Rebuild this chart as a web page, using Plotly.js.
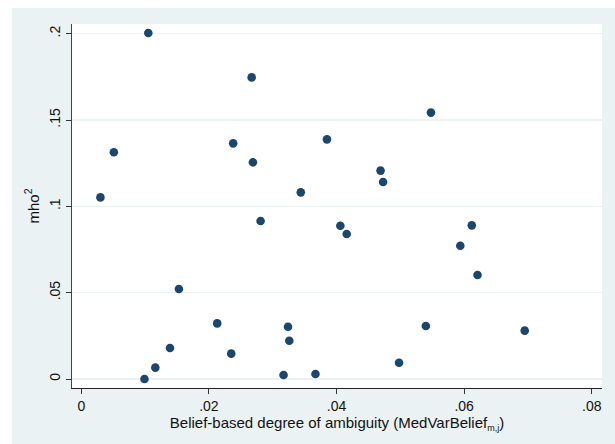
<!DOCTYPE html>
<html>
<head>
<meta charset="utf-8">
<script src="https://cdn.plot.ly/plotly-3.0.1.min.js"></script>
<style>html,body{margin:0;padding:0;background:#fff;}#chart{width:615px;height:444px;}</style>
</head>
<body>
<div id="chart"></div>
<script>
const ambiguity = [0.0030, 0.0051, 0.0099, 0.0105, 0.0116, 0.0139, 0.0153, 0.0213, 0.0235, 0.0238,
                   0.0267, 0.0269, 0.0281, 0.0317, 0.0324, 0.0326, 0.0344, 0.0367, 0.0385, 0.0406,
                   0.0416, 0.0469, 0.0473, 0.0498, 0.0540, 0.0548, 0.0594, 0.0612, 0.0621, 0.0695];
const mho2 = [0.1052, 0.1313, 0.0000, 0.2004, 0.0066, 0.0180, 0.0521, 0.0322, 0.0147, 0.1365,
              0.1747, 0.1255, 0.0915, 0.0023, 0.0303, 0.0222, 0.1081, 0.0029, 0.1388, 0.0888,
              0.0840, 0.1207, 0.1141, 0.0094, 0.0307, 0.1543, 0.0772, 0.0890, 0.0602, 0.0280];
const xTickVals = [0, 0.02, 0.04, 0.06, 0.08];
const xTickText = ['0', '.02', '.04', '.06', '.08'];
const yTickVals = [0, 0.05, 0.1, 0.15, 0.2];
const yTickText = ['0', '.05', '.1', '.15', '.2'];

const FONT = '"Liberation Sans", Arial, sans-serif';
const BG = '#eaf2f3';

const trace = {
  type: 'scatter', mode: 'markers',
  x: ambiguity, y: mho2,
  marker: {color: '#1a476f', size: 8.6, line: {width: 0}},
  hoverinfo: 'skip'
};

const layout = {
  width: 615, height: 444,
  margin: {l: 72, r: 13, t: 24, b: 56, pad: 0},
  paper_bgcolor: BG,
  plot_bgcolor: '#ffffff',
  showlegend: false,
  font: {family: FONT, color: '#000', size: 14},
  xaxis: {
    range: [-0.001458, 0.08161],
    tickmode: 'array', tickvals: xTickVals, ticktext: xTickText,
    ticks: 'outside', ticklen: 5, tickwidth: 1, tickcolor: '#333',
    showline: true, linecolor: '#222', linewidth: 1,
    showgrid: false, zeroline: false,
    tickfont: {size: 14, family: FONT, color: '#111'},
    title: {text: 'Belief-based degree of ambiguity (MedVarBelief<sub><span style="font-size:9px">m,j</span></sub>)', font: {size: 15, family: FONT, color: '#111'}, standoff: 1}
  },
  yaxis: {
    range: [-0.00521, 0.20562],
    tickmode: 'array', tickvals: yTickVals, ticktext: yTickText,
    tickangle: -90,
    ticks: 'outside', ticklen: 5, tickwidth: 1, tickcolor: '#333',
    showline: true, linecolor: '#444', linewidth: 1,
    showgrid: true, gridcolor: BG, gridwidth: 1.3,
    zeroline: false,
    tickfont: {size: 14, family: FONT, color: '#111'},
    title: {text: 'mho<sup>2</sup>', font: {size: 15, family: FONT, color: '#111'}, standoff: 4}
  },
  shapes: [
    {type: 'rect', xref: 'paper', yref: 'paper', x0: -0.1359, x1: -0.1132, y0: -0.16, y1: 1.07, fillcolor: '#ffffff', line: {width: 0}, layer: 'below'},
    {type: 'rect', xref: 'paper', yref: 'paper', x0: -0.1359, x1: 1.03, y0: 1.044, y1: 1.07, fillcolor: '#ffffff', line: {width: 0}, layer: 'below'}
  ]
};

Plotly.newPlot('chart', [trace], layout, {displayModeBar: false, staticPlot: true});
</script>
</body>
</html>
